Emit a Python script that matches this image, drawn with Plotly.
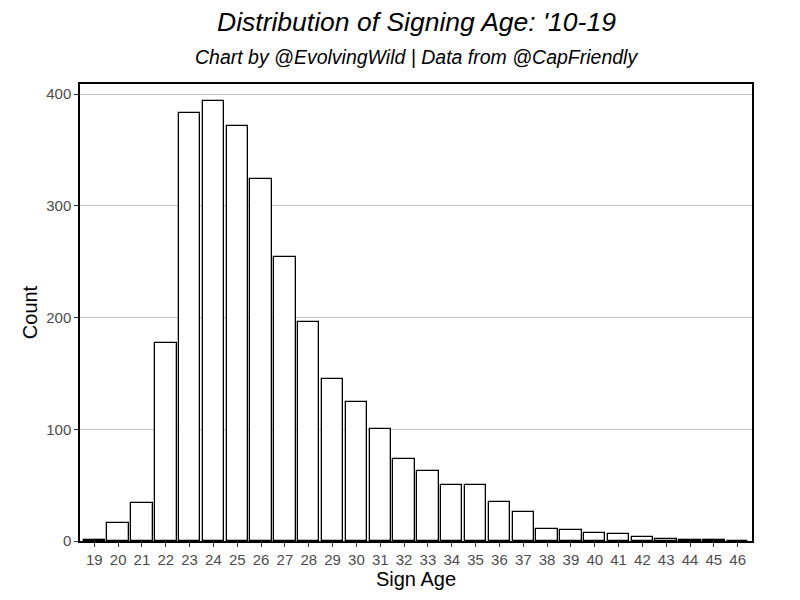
import plotly.graph_objects as go

ages = [str(a) for a in range(19, 47)]
counts = [1, 16, 34, 177, 383, 394, 371, 324, 254, 196, 145, 124, 100, 73, 63,
          50, 50, 35, 26, 11, 10, 7, 6, 4, 2, 1, 1, 0]

title_text = "Distribution of Signing Age: '10-19"
subtitle_text = "Chart by @EvolvingWild | Data from @CapFriendly"
y_ticks = [0, 100, 200, 300, 400]

fig = go.Figure(go.Bar(
    x=list(range(len(ages))), y=counts,
    width=0.9,
    marker=dict(color="white", line=dict(color="black", width=1.3)),
))

fig.update_layout(
    width=800, height=600,
    margin=dict(l=72, r=56, t=76, b=67),
    plot_bgcolor="white", paper_bgcolor="white",
    font=dict(family="Liberation Sans, Arial, sans-serif"),
    showlegend=False,
    bargap=0,
    annotations=[
        dict(text=title_text, xref="paper", yref="paper", x=0.5, y=1.0,
             yshift=62, showarrow=False, xanchor="center", yanchor="middle",
             font=dict(size=26.5, color="black", style="italic")),
        dict(text=subtitle_text, xref="paper", yref="paper", x=0.5, y=1.0,
             yshift=27, showarrow=False, xanchor="center", yanchor="middle",
             font=dict(size=19.5, color="black", style="italic")),
    ],
)

fig.update_xaxes(
    range=[-0.6, len(ages) - 0.4],
    tickmode="array", tickvals=list(range(len(ages))), ticktext=ages,
    ticks="outside", ticklen=4, tickcolor="#333333", tickwidth=1,
    tickfont=dict(size=15, color="#4D4D4D"),
    showgrid=False, zeroline=False,
    showline=True, linecolor="black", linewidth=1.5, mirror=True,
    title=dict(text="Sign Age", font=dict(size=20, color="black"), standoff=2),
)
fig.update_yaxes(
    range=[0, 409],
    tickmode="array", tickvals=y_ticks,
    ticks="outside", ticklen=4, tickcolor="#333333", tickwidth=1,
    tickfont=dict(size=15, color="#4D4D4D"),
    showgrid=True, gridcolor="#C8C8C8", gridwidth=0.8, zeroline=False,
    showline=True, linecolor="black", linewidth=1.5, mirror=True,
    title=dict(text="Count", font=dict(size=20, color="black"), standoff=3),
)

fig.write_html("out.html")
